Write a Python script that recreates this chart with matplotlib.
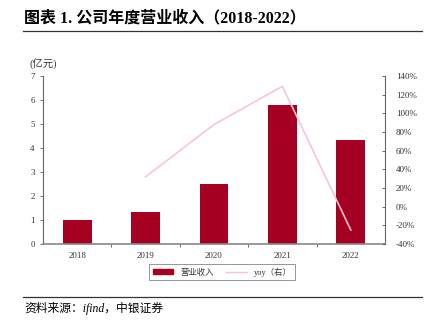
import numpy as np
import matplotlib
matplotlib.use("Agg")
import matplotlib.pyplot as plt
from matplotlib.lines import Line2D

plt.rcParams['font.family'] = ['Liberation Serif', 'Noto Sans CJK SC']

years = ['2018', '2019', '2020', '2021', '2022']
revenue = [1.0, 1.33, 2.5, 5.78, 4.33]   # 亿元
yoy = [None, 32.0, 88.0, 129.0, -25.0]   # %

bar_color = '#a50021'
line_color = '#f6c6cf'
tick_col = '#333333'

fig = plt.figure(figsize=(4.31, 3.32), dpi=100)
ax = fig.add_axes([43/431, 88/332, 342/431, 168/332])
ax2 = ax.twinx()

x = np.arange(len(years))
ax.bar(x, revenue, width=0.42, color=bar_color, zorder=2)
ax.set_xlim(-0.5, 4.5)
ax.set_ylim(0, 7)
ax.set_yticks(range(0, 8))
ax.set_xticks(x)
ax.set_xticklabels(years)
ax.set_xticks(np.arange(0.5, 4.5, 1), minor=True)
ax.tick_params(axis='x', which='major', length=0, labelsize=6.5, pad=6, labelcolor=tick_col)
ax.tick_params(axis='x', which='minor', length=2, width=0.6, color='#555555')
ax.tick_params(axis='y', length=2, width=0.6, labelsize=6.5, pad=4, color='#555555', labelcolor=tick_col)

yx = [i for i, v in enumerate(yoy) if v is not None]
yv = [v for v in yoy if v is not None]
ax2.plot(yx, yv, color=line_color, lw=1.2, zorder=3)
ax2.set_ylim(-40, 140)
ax2.set_yticks(range(-40, 141, 20))
ax2.set_yticklabels([f'{t}%' for t in range(-40, 141, 20)])
ax2.tick_params(axis='y', direction='in', length=2, width=0.6, labelsize=6.5, pad=8,
                color='#555555', labelcolor=tick_col)

for a in (ax, ax2):
    a.spines['top'].set_visible(False)
    for s in ('left', 'right', 'bottom'):
        a.spines[s].set_color('#666666')
        a.spines[s].set_linewidth(0.8)
ax.spines['right'].set_visible(False)
ax2.spines['left'].set_visible(False)
ax2.spines['bottom'].set_visible(False)
ax.spines['bottom'].set_linewidth(1.2)
ax.spines['bottom'].set_color('#888888')

fig.text(30/431, 1 - 64/332, '(亿元)', fontsize=7.5, va='center', ha='left', color=tick_col)

# legend
handles = [plt.Rectangle((0, 0), 1, 1, color=bar_color),
           Line2D([0], [0], color=line_color, lw=1)]
leg = fig.legend(handles, ['营业收入', 'yoy（右）'], loc='center',
                 bbox_to_anchor=(222/431, 1 - 272/332), ncol=2, fontsize=6,
                 frameon=True, fancybox=False, edgecolor='#666666',
                 handlelength=2.5, handleheight=0.5, columnspacing=1.5,
                 borderpad=0.4)
leg.get_frame().set_linewidth(0.6)
for t in leg.get_texts():
    t.set_color(tick_col)

# title and source
fig.text(24/431, 1 - 18/332, '图表 1. 公司年度营业收入（2018-2022）', fontsize=11.5,
         fontweight='bold', va='center', ha='left')
fig.add_artist(Line2D([23/431, 422/431], [1 - 31/332, 1 - 31/332], color='#333333', lw=0.9))
fig.add_artist(Line2D([23/431, 422/431], [1 - 297/332, 1 - 297/332], color='#333333', lw=0.9))
fig.text(24/431, 1 - 308/332, '资料来源：ifind，中银证券', fontsize=8.5,
         style='italic', va='center', ha='left')

fig.savefig('out.png', dpi=100)
